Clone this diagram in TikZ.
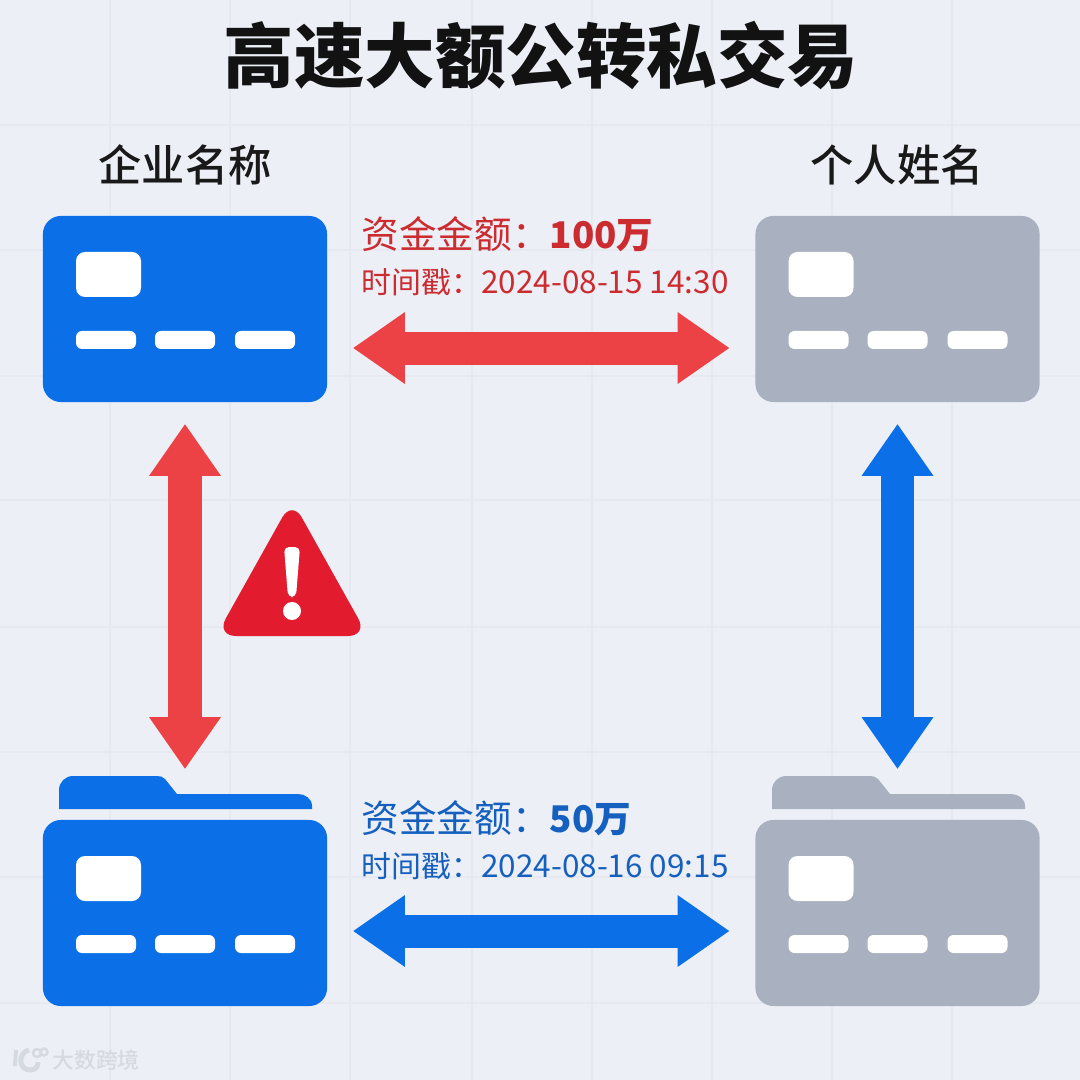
\documentclass[tikz,border=0pt]{standalone}
\usepackage{fontspec}
\setmainfont{Noto Sans CJK SC}
\newfontfamily\medfont{Noto Sans CJK SC Medium}
\usetikzlibrary{arrows.meta}
\definecolor{bgcol}{HTML}{ECEFF6}
\definecolor{gridcol}{HTML}{E6E9EF}
\definecolor{bluecol}{HTML}{0B6FE8}
\definecolor{greycol}{HTML}{A9B1C0}
\definecolor{redcol}{HTML}{EC4245}
\definecolor{warncol}{HTML}{E21B2E}
\definecolor{redtext}{HTML}{CC2B30}
\definecolor{bluetext}{HTML}{1560BE}
\definecolor{markcol}{HTML}{D5D9E0}
\tikzset{
  cardbox/.style={minimum width=2.84cm,minimum height=1.86cm,inner sep=0pt,rounded corners=0.18cm},
  chipbox/.style={fill=white,rounded corners=0.09cm},
  barbox/.style={fill=white,rounded corners=0.06cm},
  bigarrow/.style={line width=0.33cm,{Triangle[length=0.52cm,width=0.68cm]}-{Triangle[length=0.52cm,width=0.68cm]}},
  headtext/.style={font=\fontsize{12.3pt}{14pt}\medfont,text=black!90},
  sumtext/.style={anchor=west,inner sep=0pt,font=\fontsize{10.7pt}{13pt}\selectfont},
  timetext/.style={anchor=west,inner sep=0pt,font=\fontsize{8.5pt}{10pt}\selectfont}
}
\newcommand{\datefont}{\fontsize{8.95pt}{10pt}\selectfont}
\newcommand{\sumfont}{\fontsize{10.45pt}{13pt}\selectfont\bfseries}
\begin{document}
\begin{tikzpicture}[x=0.01cm,y=-0.01cm]
\useasboundingbox (0,0) rectangle (1080,1080);
\fill[bgcol] (0,0) rectangle (1080,1080);
\foreach \x in {110,230,350,472,592,712,832,952} {\draw[gridcol,line width=0.5pt] (\x,0) -- (\x,1080);}
\foreach \y in {125,250,376,500,627,752,877,1003} {\draw[gridcol,line width=0.5pt] (0,\y) -- (1080,\y);}

\node[inner sep=0pt,font=\fontsize{20.05pt}{22pt}\selectfont\bfseries,text=black!93] (title) at (541,56) {高速大额公转私交易};
\node[headtext] (headCo) at (185,165) {企业名称};
\node[headtext] (headPerson) at (897,165) {个人姓名};

% folder tabs
\foreach \x/\c in {59/bluecol,772/greycol} {
  \fill[\c] (\x,809) -- (\x,790) to[out=90,in=180] (\x+14,776) -- (\x+98,776) to[out=0,in=135] (\x+106,779) -- (\x+118,794) -- (\x+239,794) to[out=0,in=90] (\x+253,806) -- (\x+253,809) -- cycle;
}

% cards
\foreach \n/\x/\y/\c in {cardCo/185/309/bluecol,cardPerson/897.5/309/greycol,folderCo/185/913/bluecol,folderPerson/897.5/913/greycol} {
  \node[cardbox,fill=\c] (\n) at (\x,\y) {};
  \fill[chipbox] (\x-109,\y-57) rectangle (\x-44,\y-12);
  \fill[barbox] (\x-109,\y+22) rectangle (\x-49,\y+40);
  \fill[barbox] (\x-30,\y+22) rectangle (\x+30,\y+40);
  \fill[barbox] (\x+50,\y+22) rectangle (\x+110,\y+40);
}

\node[sumtext,text=redtext] (sumTop) at (361,234) {资金金额：{\sumfont 100万}};
\node[timetext,text=redtext] (timeTop) at (361,282) {时间戳：{\datefont 2024-08-15 14:30}};
\node[sumtext,text=bluetext] (sumLow) at (361,818) {资金金额：{\sumfont 50万}};
\node[timetext,text=bluetext] (timeLow) at (361,866) {时间戳：{\datefont 2024-08-16 09:15}};

\draw[bigarrow,redcol,shorten <=0.25cm,shorten >=0.25cm] ([yshift=-0.39cm]cardCo.east) -- ([yshift=-0.39cm]cardPerson.west);
\draw[bigarrow,bluecol,shorten <=0.25cm,shorten >=0.25cm] ([yshift=-0.18cm]folderCo.east) -- ([yshift=-0.18cm]folderPerson.west);
\draw[bigarrow,redcol,shorten <=0.21cm,shorten >=0.5cm] (cardCo.south) -- (folderCo.north);
\draw[bigarrow,bluecol,shorten <=0.21cm,shorten >=0.5cm] (cardPerson.south) -- (folderPerson.north);

% warning sign
\fill[warncol,rounded corners=0.2cm] (292,500) -- (368,636) -- (216,636) -- cycle;
\fill[white,rounded corners=0.05cm] (284,547) -- (300,547) -- (296,597) -- (288,597) -- cycle;
\fill[white] (292,611) circle (0.09cm);

% watermark
\draw[markcol,line width=1.1pt] (16,1050) -- (15,1066);
\draw[markcol,line width=1.4pt] (29,1050) .. controls (18,1052) and (18,1070) .. (30,1070) .. controls (36,1070) and (38,1066) .. (38,1062);
\draw[markcol,line width=0.7pt] (37,1053) circle (0.04cm);
\draw[markcol,line width=0.7pt] (44,1052) circle (0.035cm);
\node[inner sep=0pt,font=\fontsize{6.2pt}{7pt}\medfont,text=markcol] (markText) at (96,1060) {大数跨境};
\end{tikzpicture}
\end{document}
